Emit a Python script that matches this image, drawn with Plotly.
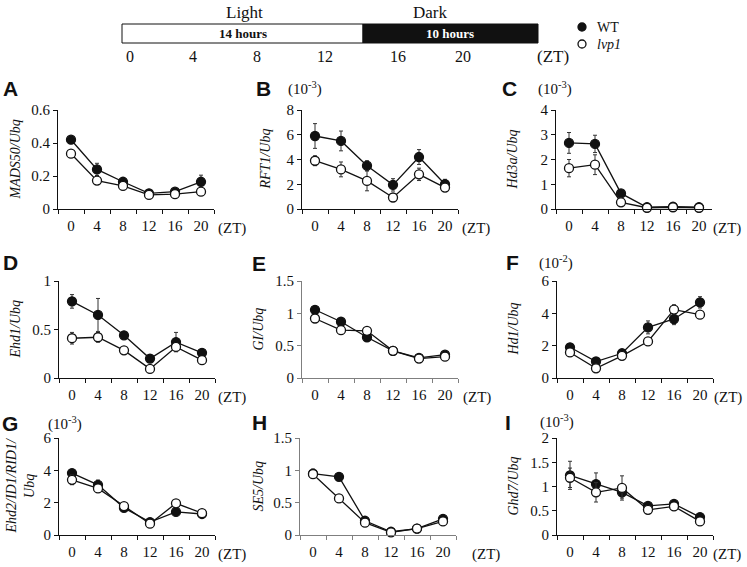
import plotly.graph_objects as go

W, H = 747, 567

# ---------------- data ----------------
zt = ["0", "4", "8", "12", "16", "20"]

mads50_wt = [0.42, 0.24, 0.165, 0.095, 0.105, 0.165]
mads50_wt_err = [0.012, 0.037, 0.01, 0.008, 0.008, 0.04]
mads50_lvp1 = [0.335, 0.172, 0.14, 0.085, 0.09, 0.105]
mads50_lvp1_err = [0.02, 0.01, 0.01, 0.008, 0.008, 0.01]

rft1_wt = [5.9, 5.5, 3.5, 1.95, 4.2, 2.0]
rft1_wt_err = [1.0, 0.8, 0.4, 0.5, 0.6, 0.4]
rft1_lvp1 = [3.9, 3.2, 2.27, 0.93, 2.8, 1.73]
rft1_lvp1_err = [0.4, 0.6, 0.8, 0.1, 0.5, 0.2]

hd3a_wt = [2.67, 2.63, 0.63, 0.07, 0.09, 0.07]
hd3a_wt_err = [0.42, 0.35, 0.05, 0.02, 0.02, 0.02]
hd3a_lvp1 = [1.65, 1.79, 0.27, 0.05, 0.07, 0.05]
hd3a_lvp1_err = [0.35, 0.4, 0.04, 0.01, 0.01, 0.01]

ehd1_wt = [0.79, 0.65, 0.44, 0.2, 0.37, 0.26]
ehd1_wt_err = [0.07, 0.17, 0.02, 0.03, 0.1, 0.02]
ehd1_lvp1 = [0.41, 0.42, 0.285, 0.094, 0.32, 0.184]
ehd1_lvp1_err = [0.06, 0.05, 0.02, 0.01, 0.03, 0.02]

gi_wt = [1.055, 0.87, 0.63, 0.42, 0.31, 0.36]
gi_wt_err = [0.02, 0.02, 0.02, 0.02, 0.02, 0.02]
gi_lvp1 = [0.92, 0.74, 0.73, 0.42, 0.3, 0.33]
gi_lvp1_err = [0.02, 0.02, 0.02, 0.02, 0.02, 0.02]

hd1_wt = [1.9, 1.02, 1.53, 3.13, 3.65, 4.68]
hd1_wt_err = [0.1, 0.1, 0.1, 0.4, 0.35, 0.35]
hd1_lvp1 = [1.58, 0.6, 1.37, 2.26, 4.23, 3.92]
hd1_lvp1_err = [0.1, 0.1, 0.1, 0.1, 0.3, 0.1]

ehd2_wt = [3.83, 3.1, 1.68, 0.8, 1.43, 1.3]
ehd2_wt_err = [0.1, 0.3, 0.1, 0.1, 0.1, 0.1]
ehd2_lvp1 = [3.41, 2.88, 1.79, 0.7, 1.96, 1.35]
ehd2_lvp1_err = [0.3, 0.1, 0.15, 0.1, 0.1, 0.1]

se5_wt = [0.95, 0.9, 0.22, 0.05, 0.1, 0.25]
se5_wt_err = [0.07, 0.02, 0.02, 0.01, 0.01, 0.03]
se5_lvp1 = [0.94, 0.565, 0.19, 0.04, 0.1, 0.21]
se5_lvp1_err = [0.03, 0.02, 0.02, 0.01, 0.01, 0.02]

ghd7_wt = [1.23, 1.05, 0.88, 0.6, 0.64, 0.37]
ghd7_wt_err = [0.29, 0.23, 0.12, 0.03, 0.03, 0.03]
ghd7_lvp1 = [1.18, 0.88, 0.97, 0.52, 0.59, 0.28]
ghd7_lvp1_err = [0.2, 0.2, 0.25, 0.03, 0.03, 0.03]

header_ticks = ["0", "4", "8", "12", "16", "20"]
header_hours = [0.45, 4.1, 7.8, 11.7, 15.95, 19.7]
legend_names = ["WT", "<i>lvp1</i>"]

# ---------------- layout helpers ----------------
serif = "Liberation Serif, Times New Roman, serif"
sans = "Liberation Sans, Arial, sans-serif"
BLACK = "#111111"


def fx(p):
    return p / W


def fy(p):
    return 1 - p / H


panels = [
    dict(L="A", t="MADS50/Ubq", wt=mads50_wt, we=mads50_wt_err, lv=mads50_lvp1, le=mads50_lvp1_err,
         yr=[0, 0.6], dt=0.2, mult=None, xd=(58, 214), yd=(110, 209), ac=BLACK,
         lp=(10, 89), tx=15, ztx=232, lab_y=228),
    dict(L="B", t="RFT1/Ubq", wt=rft1_wt, we=rft1_wt_err, lv=rft1_lvp1, le=rft1_lvp1_err,
         yr=[0, 8], dt=2, mult=("-3", 305, 88), xd=(302, 458), yd=(110, 209), ac=BLACK,
         lp=(263, 89), tx=265, ztx=476, lab_y=228),
    dict(L="C", t="Hd3a/Ubq", wt=hd3a_wt, we=hd3a_wt_err, lv=hd3a_lvp1, le=hd3a_lvp1_err,
         yr=[0, 4], dt=1, mult=("-3", 555, 88), xd=(556, 712), yd=(110, 209), ac=BLACK,
         lp=(509, 89), tx=512, ztx=727, lab_y=228),
    dict(L="D", t="Ehd1/Ubq", wt=ehd1_wt, we=ehd1_wt_err, lv=ehd1_lvp1, le=ehd1_lvp1_err,
         yr=[0, 1], dt=0.5, mult=None, xd=(59, 215), yd=(281, 378), ac=BLACK,
         lp=(10, 262), tx=15, ztx=232, lab_y=397),
    dict(L="E", t="GI/Ubq", wt=gi_wt, we=gi_wt_err, lv=gi_lvp1, le=gi_lvp1_err,
         yr=[0, 1.5], dt=0.5, mult=None, xd=(302, 458), yd=(281, 378), ac="#7f7f7f",
         lp=(259, 263), tx=258, ztx=477, lab_y=397),
    dict(L="F", t="Hd1/Ubq", wt=hd1_wt, we=hd1_wt_err, lv=hd1_lvp1, le=hd1_lvp1_err,
         yr=[0, 6], dt=2, mult=("-2", 556, 262), xd=(557, 713), yd=(281, 378), ac=BLACK,
         lp=(512, 262), tx=513, ztx=728, lab_y=397),
    dict(L="G", t="Ehd2/ID1/RID1/<br>Ubq", wt=ehd2_wt, we=ehd2_wt_err, lv=ehd2_lvp1, le=ehd2_lvp1_err,
         yr=[0, 6], dt=2, mult=("-3", 65, 423), xd=(59, 215), yd=(438, 535), ac=BLACK,
         lp=(10, 423), tx=20, ztx=232, lab_y=554),
    dict(L="H", t="SE5/Ubq", wt=se5_wt, we=se5_wt_err, lv=se5_lvp1, le=se5_lvp1_err,
         yr=[0, 1.5], dt=0.5, mult=None, xd=(300, 456), yd=(438, 535), ac="#7f7f7f",
         lp=(259, 422), tx=258, ztx=486, lab_y=554),
    dict(L="I", t="Ghd7/Ubq", wt=ghd7_wt, we=ghd7_wt_err, lv=ghd7_lvp1, le=ghd7_lvp1_err,
         yr=[0, 2], dt=0.5, mult=("-3", 557, 421), xd=(557, 713), yd=(438, 535), ac=BLACK,
         lp=(508, 422), tx=513, ztx=727, lab_y=554),
]

fig = go.Figure()
annotations = []
shapes = []
layout_axes = {}

for i, p in enumerate(panels):
    n = i + 1
    xa = "x" if n == 1 else f"x{n}"
    ya = "y" if n == 1 else f"y{n}"
    for name, ys, es, fill in ((legend_names[0], p["wt"], p["we"], BLACK),
                               (legend_names[1], p["lv"], p["le"], "white")):
        fig.add_trace(go.Scatter(
            x=zt, y=ys, xaxis=xa, yaxis=ya, mode="lines+markers", name=name,
            showlegend=False, cliponaxis=False,
            line=dict(color=BLACK, width=1.3),
            marker=dict(symbol="circle", size=9, color=fill, line=dict(color=BLACK, width=1.3)),
            error_y=dict(type="data", array=es, visible=True, color="#333333", thickness=1, width=2),
        ))
    xkey = "xaxis" if n == 1 else f"xaxis{n}"
    ykey = "yaxis" if n == 1 else f"yaxis{n}"
    layout_axes[xkey] = dict(
        domain=[fx(p["xd"][0]), fx(p["xd"][1])], anchor=ya, type="category",
        categoryorder="array", categoryarray=zt, range=[-0.5, 5.5], tickson="boundaries",
        ticks="outside", ticklen=4, tickcolor=p["ac"], showline=True, linecolor=p["ac"], linewidth=1,
        showgrid=False, zeroline=False, tickfont=dict(family=serif, size=15, color=BLACK),
        ticklabelstandoff=3, fixedrange=True, automargin=False,
    )
    layout_axes[ykey] = dict(
        domain=[fy(p["yd"][1]), fy(p["yd"][0])], anchor=xa, range=p["yr"], dtick=p["dt"], tick0=0,
        ticks="outside", ticklen=4, tickcolor=p["ac"], showline=True, linecolor=p["ac"], linewidth=1,
        showgrid=False, zeroline=False, tickfont=dict(family=serif, size=15, color=BLACK),
        fixedrange=True, automargin=False,
    )
    annotations.append(dict(text=f"<b>{p['L']}</b>", x=fx(p["lp"][0]), y=fy(p["lp"][1]), xref="paper", yref="paper",
                            xanchor="center", yanchor="middle", showarrow=False,
                            font=dict(family=sans, size=21, color=BLACK)))
    annotations.append(dict(text=p["t"], x=fx(p["tx"]), y=fy((p["yd"][0] + p["yd"][1]) / 2), xref="paper", yref="paper",
                            xanchor="center", yanchor="middle", showarrow=False, textangle=-90,
                            font=dict(family=serif, size=14, color=BLACK, style="italic")))
    annotations.append(dict(text="(ZT)", x=fx(p["ztx"]), y=fy(p["lab_y"]), xref="paper", yref="paper",
                            xanchor="center", yanchor="middle", showarrow=False,
                            font=dict(family=serif, size=15, color=BLACK)))
    if p["mult"]:
        e, mx, my = p["mult"]
        annotations.append(dict(text=f"(10<sup>{e}</sup>)", x=fx(mx), y=fy(my), xref="paper", yref="paper",
                                xanchor="center", yanchor="middle", showarrow=False,
                                font=dict(family=serif, size=15, color=BLACK)))

# ---------------- header: light / dark bar ----------------
bar_l, bar_r, bar_mid = 122, 538, 363
bar_t, bar_b = 24, 43
hour_px = (bar_r - bar_l) / 24.0
shapes.append(dict(type="rect", xref="paper", yref="paper", x0=fx(bar_l), x1=fx(bar_mid), y0=fy(bar_b), y1=fy(bar_t),
                   fillcolor="white", line=dict(color=BLACK, width=1)))
shapes.append(dict(type="rect", xref="paper", yref="paper", x0=fx(bar_mid), x1=fx(bar_r), y0=fy(bar_b), y1=fy(bar_t),
                   fillcolor=BLACK, line=dict(color=BLACK, width=1)))
annotations.append(dict(text="<b>14 hours</b>", x=fx((bar_l + bar_mid) / 2), y=fy((bar_t + bar_b) / 2), xref="paper", yref="paper",
                        showarrow=False, xanchor="center", yanchor="middle", font=dict(family=serif, size=13, color=BLACK)))
annotations.append(dict(text="<b>10 hours</b>", x=fx((bar_mid + bar_r) / 2), y=fy((bar_t + bar_b) / 2), xref="paper", yref="paper",
                        showarrow=False, xanchor="center", yanchor="middle", font=dict(family=serif, size=13, color="white")))
annotations.append(dict(text="Light", x=fx(244), y=fy(12), xref="paper", yref="paper", showarrow=False,
                        xanchor="center", yanchor="middle", font=dict(family=serif, size=17, color=BLACK)))
annotations.append(dict(text="Dark", x=fx(430), y=fy(12), xref="paper", yref="paper", showarrow=False,
                        xanchor="center", yanchor="middle", font=dict(family=serif, size=17, color=BLACK)))
for lab, hr in zip(header_ticks, header_hours):
    annotations.append(dict(text=lab, x=fx(bar_l + hr * hour_px), y=fy(57), xref="paper", yref="paper", showarrow=False,
                            xanchor="center", yanchor="middle", font=dict(family=serif, size=16, color=BLACK)))
annotations.append(dict(text="(ZT)", x=fx(553), y=fy(57), xref="paper", yref="paper", showarrow=False,
                        xanchor="center", yanchor="middle", font=dict(family=serif, size=17, color=BLACK)))

# legend (drawn as marker shapes + text)
for name, fill, ly in ((legend_names[0], BLACK, 27), (legend_names[1], "white", 44)):
    shapes.append(dict(type="circle", xref="paper", yref="paper", xsizemode="pixel", ysizemode="pixel",
                       xanchor=fx(582), yanchor=fy(ly), x0=-4, x1=4, y0=-4, y1=4,
                       fillcolor=fill, line=dict(color=BLACK, width=1.3)))
    annotations.append(dict(text=name, x=fx(595), y=fy(ly), xref="paper", yref="paper", showarrow=False,
                            xanchor="left", yanchor="middle", font=dict(family=serif, size=14, color=BLACK)))

fig.update_layout(
    template="none",
    width=W, height=H, margin=dict(l=0, r=0, t=0, b=0, autoexpand=False),
    paper_bgcolor="white", plot_bgcolor="white",
    font=dict(family=serif, size=15, color=BLACK),
    showlegend=False,
    annotations=annotations, shapes=shapes,
    **layout_axes,
)

fig.write_html("out.html",
               config={"displayModeBar": False},
               post_script="document.body.style.margin='0';document.body.style.padding='0';"
                           "document.body.style.overflow='hidden';")
